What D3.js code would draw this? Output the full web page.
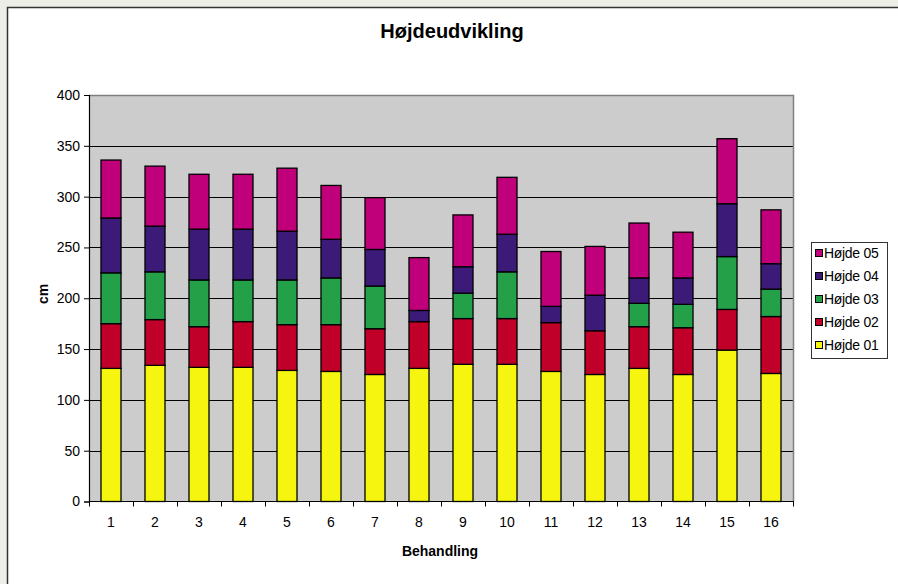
<!DOCTYPE html>
<html><head><meta charset="utf-8">
<script src="https://cdn.jsdelivr.net/npm/d3@7"></script>
<style>
body{margin:0;background:#fff}
svg{display:block;font-family:"Liberation Sans",Arial,sans-serif}
</style>
</head><body><svg id="c" width="898" height="584"></svg>
<script>
const categories = ["1","2","3","4","5","6","7","8","9","10","11","12","13","14","15","16"];
const seriesNames = ["Højde 01","Højde 02","Højde 03","Højde 04","Højde 05"];
const hojde01 = [131,134,132,132,129,128,125,131,135,135,128,125,131,125,149,126];
const hojde02 = [44,45,40,45,45,46,45,46,45,45,48,43,41,46,40,56];
const hojde03 = [50,47,46,41,44,46,42,0,25,46,0,0,23,23,52,27];
const hojde04 = [54,45,50,50,48,38,36,11,26,37,16,35,25,26,52,25];
const hojde05 = [57,59,54,54,62,53,51,52,51,56,54,48,54,45,64,53];
const yTicks = [0,50,100,150,200,250,300,350,400];
const seriesColors = ["#F5F50F","#C00028","#23A048","#3C1A78","#C0007A"];
const chartTitle = "Højdeudvikling";
const xTitle = "Behandling";
const yTitle = "cm";

const svg = d3.select("#c");
// outer background and frame
svg.append("rect").attr("x",0).attr("y",0).attr("width",898).attr("height",584).attr("fill","#eeeee8");
svg.append("rect").attr("x",7.5).attr("y",7.5).attr("width",900).attr("height",600)
  .attr("fill","#fff").attr("stroke","#333").attr("stroke-width",1.5);

const L=89, R=793, T=95, B=501.5;
const x = d3.scaleBand().domain(categories).range([L,R]).paddingInner(0.545).paddingOuter(0.2725);
const xCat = d3.scaleBand().domain(categories).range([L,R]).padding(0);
const y = d3.scaleLinear().domain([0,400]).range([B,T]);

// plot background
svg.append("rect").attr("x",L).attr("y",T).attr("width",R-L).attr("height",B-T).attr("fill","#CCCCCC");
// gridlines
svg.append("g").selectAll("line").data(yTicks.filter(d=>d>0 && d<400)).join("line")
  .attr("x1",L).attr("x2",R).attr("y1",d=>Math.round(y(d))+0.5).attr("y2",d=>Math.round(y(d))+0.5)
  .attr("stroke","#000").attr("stroke-width",1);
// top & right border
svg.append("path").attr("d",`M${L},${T+0.5}H${R+0.5}V${B}`).attr("fill","none").attr("stroke","#808080").attr("stroke-width",1.5);

// stacked data
const seriesArrays = [hojde01,hojde02,hojde03,hojde04,hojde05];
const rows = categories.map((c,i)=>{const o={cat:c}; seriesNames.forEach((s,k)=>o[s]=seriesArrays[k][i]); return o;});
const stack = d3.stack().keys(seriesNames)(rows);
const gBars = svg.append("g");
stack.forEach((layer,k)=>{
  gBars.selectAll(null).data(layer.filter(d=>d[1]-d[0]>0)).join("rect")
    .attr("x",d=>x(d.data.cat)).attr("width",x.bandwidth())
    .attr("y",d=>y(d[1])).attr("height",d=>y(d[0])-y(d[1]))
    .attr("fill",seriesColors[k]).attr("stroke","#000").attr("stroke-width",1.3);
});

// y axis
const yAxis = d3.axisLeft(y).tickValues(yTicks).tickSize(5).tickPadding(4);
const gy = svg.append("g").attr("transform",`translate(${L},0)`).call(yAxis);
gy.select(".domain").attr("stroke","#000").attr("stroke-width",1.2);
gy.selectAll(".tick line").attr("stroke","#000");
gy.selectAll(".tick text").attr("font-size",14).attr("fill","#000").attr("font-family","Liberation Sans, Arial, sans-serif");

// x axis: labels centered, ticks on category boundaries
const xAxis = d3.axisBottom(xCat).tickSize(0).tickPadding(16);
const gx = svg.append("g").attr("transform",`translate(0,${B})`).call(xAxis);
gx.select(".domain").remove();
gx.selectAll(".tick text").attr("font-size",14).attr("fill","#000").attr("font-family","Liberation Sans, Arial, sans-serif");
const bounds = categories.map(c=>xCat(c)).concat([xCat.range()[1]]);
svg.append("g").selectAll("line").data(bounds).join("line")
  .attr("x1",d=>Math.round(d)+0.5).attr("x2",d=>Math.round(d)+0.5).attr("y1",B).attr("y2",B+5)
  .attr("stroke","#000");
svg.append("line").attr("x1",L).attr("x2",R+1).attr("y1",B).attr("y2",B).attr("stroke","#000").attr("stroke-width",1.2);

// titles
svg.append("text").attr("x",452).attr("y",38).attr("text-anchor","middle")
  .attr("font-size",20).attr("font-weight","bold").text(chartTitle);
svg.append("text").attr("x",440).attr("y",556).attr("text-anchor","middle")
  .attr("font-size",14).attr("font-weight","bold").text(xTitle);
svg.append("text").attr("transform","translate(48,294) rotate(-90)").attr("text-anchor","middle")
  .attr("font-size",14).attr("font-weight","bold").text(yTitle);

// legend
const lg = svg.append("g");
lg.append("rect").attr("x",811.5).attr("y",242.5).attr("width",76).attr("height",116)
  .attr("fill","#fff").attr("stroke","#333").attr("stroke-width",1);
const legendOrder = seriesNames.map((s,k)=>({name:s,color:seriesColors[k]})).reverse();
const li = lg.selectAll("g.item").data(legendOrder).join("g").attr("class","item")
  .attr("transform",(d,i)=>`translate(0,${253+i*23})`);
li.append("rect").attr("x",815.5).attr("y",-3.5).attr("width",7).attr("height",7)
  .attr("fill",d=>d.color).attr("stroke","#000").attr("stroke-width",1);
li.append("text").attr("x",824).attr("y",0).attr("dy","0.35em").attr("font-size",14)
  .attr("letter-spacing","-0.3").text(d=>d.name);
</script>
</body></html>
